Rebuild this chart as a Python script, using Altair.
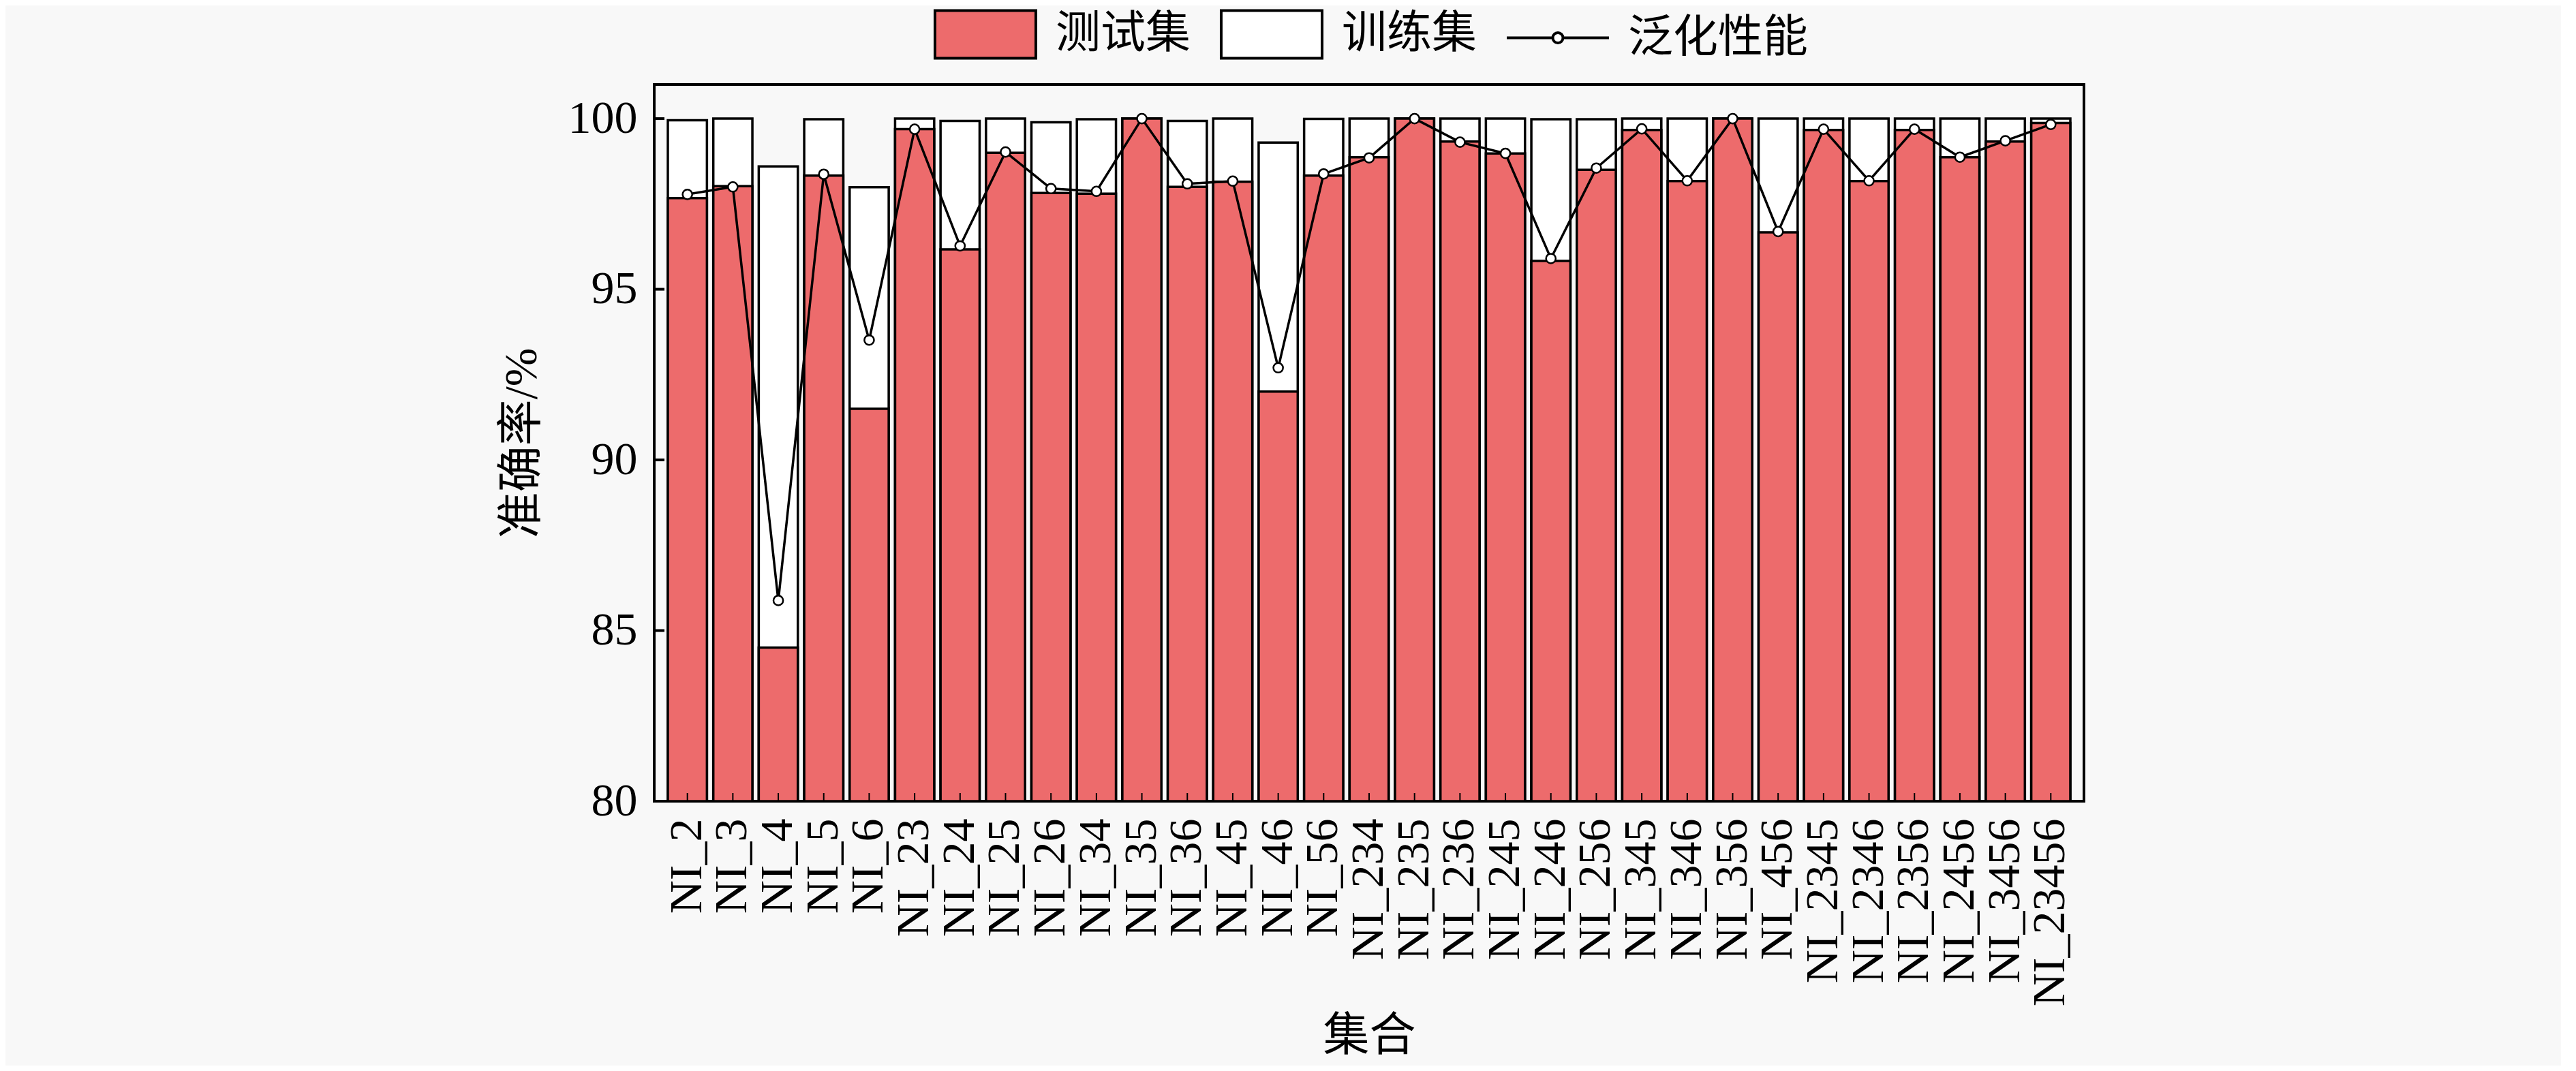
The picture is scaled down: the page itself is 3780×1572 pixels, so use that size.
import altair as alt
import pandas as pd

categories = ["NI_2", "NI_3", "NI_4", "NI_5", "NI_6", "NI_23", "NI_24", "NI_25", "NI_26",
              "NI_34", "NI_35", "NI_36", "NI_45", "NI_46", "NI_56", "NI_234", "NI_235",
              "NI_236", "NI_245", "NI_246", "NI_256", "NI_345", "NI_346", "NI_356",
              "NI_456", "NI_2345", "NI_2346", "NI_2356", "NI_2456", "NI_3456", "NI_23456"]
train_acc = [99.95, 100.0, 98.6, 99.98, 97.99, 100.0, 99.93, 100.0, 99.89, 99.98, 100.0,
             99.93, 100.0, 99.3, 99.99, 100.0, 100.0, 100.0, 100.0, 99.98, 99.98, 100.0,
             100.0, 100.0, 100.0, 100.0, 100.0, 100.0, 100.0, 100.0, 100.0]
test_acc = [97.67, 98.02, 84.5, 98.33, 91.5, 99.69, 96.17, 99.0, 97.82, 97.8, 100.0,
            98.0, 98.15, 92.0, 98.33, 98.87, 100.0, 99.33, 98.98, 95.83, 98.5, 99.67,
            98.17, 100.0, 96.67, 99.67, 98.17, 99.67, 98.87, 99.33, 99.87]
gen_perf = [97.78, 98.0, 85.88, 98.37, 93.51, 99.69, 96.27, 99.02, 97.95, 97.87, 100.0,
            98.09, 98.17, 92.7, 98.38, 98.85, 100.0, 99.31, 98.98, 95.9, 98.55, 99.7,
            98.18, 100.0, 96.69, 99.69, 98.18, 99.69, 98.87, 99.35, 99.83]
y_ticks = [80, 85, 90, 95, 100]
legend_labels = ["测试集", "训练集", "泛化性能"]

RED = "#ED6B6C"
SERIF = "Liberation Serif, Noto Sans CJK SC"
W, H = 2098, 1052

df = pd.DataFrame({"cat": categories, "train": train_acc, "test": test_acc, "gen": gen_perf})
tick_df = pd.DataFrame({"v": y_ticks})

yscale = alt.Scale(domain=[80, 101], zero=False, nice=False)
yaxis = alt.Axis(values=y_ticks, labelPadding=25, titleX=-194, titleY=H / 2,
                 titleAngle=270, titleAlign="center", titleBaseline="middle")
YT = "准确率/%"

xenc = alt.X("cat:N", sort=categories, title="集合",
             scale=alt.Scale(paddingInner=0.14, paddingOuter=0.3),
             axis=alt.Axis(labelAngle=-90, labelPadding=25, labelOverlap=False, labelLimit=0,
                           titleX=W / 2, titleY=345, titleAlign="center",
                           titleBaseline="middle"))

base = alt.Chart(df)

train_bars = base.mark_bar(fill="white", stroke="black", strokeWidth=3.5).encode(
    x=xenc, y=alt.Y("train:Q", scale=yscale, axis=yaxis, title=YT), y2=alt.datum(80))

test_bars = base.mark_bar(fill=RED, stroke="black", strokeWidth=3.5).encode(
    x=xenc, y=alt.Y("test:Q", scale=yscale, axis=yaxis, title=YT), y2=alt.datum(80))

x_ticks = base.mark_rule(color="black", strokeWidth=2).encode(
    x=xenc, y=alt.value(H), y2=alt.value(H - 12))

y_tick_marks = alt.Chart(tick_df).mark_rule(color="black", strokeWidth=4).encode(
    y=alt.Y("v:Q", scale=yscale, axis=yaxis, title=YT), x=alt.value(0), x2=alt.value(15))

gen_line = base.mark_line(color="black", strokeWidth=3.5).encode(
    x=xenc, y=alt.Y("gen:Q", scale=yscale, axis=yaxis, title=YT))

gen_pts = base.mark_point(shape="circle", filled=True, fill="white", stroke="black",
                          strokeWidth=2.5, size=200, opacity=1).encode(
    x=xenc, y=alt.Y("gen:Q", scale=yscale, axis=yaxis, title=YT))

rect_path = "M-0.987,-0.467H0.987V0.467H-0.987Z"
line_path = "M-1,0H-0.1M0.1,0H1M0.1,0A0.1,0.1 0 1,1 -0.1,0A0.1,0.1 0 1,1 0.1,0Z"

leg = alt.Legend(orient="none", legendX=409, legendY=-151, direction="horizontal",
                 title=None, symbolSize=22500, symbolStrokeWidth=4, symbolOpacity=1,
                 labelFont=SERIF, labelFontSize=66, labelColor="black", labelOffset=26,
                 columnPadding=36, labelLimit=0)

legend_layer = base.transform_calculate(s="'测试集'").transform_filter("false").mark_point(
    filled=True, strokeWidth=4, opacity=1).encode(
    fill=alt.Fill("s:N", scale=alt.Scale(domain=legend_labels, range=[RED, "white", "white"]),
                  legend=leg),
    stroke=alt.Stroke("s:N", scale=alt.Scale(domain=legend_labels,
                                             range=["black", "black", "black"]),
                      legend=leg),
    shape=alt.Shape("s:N", scale=alt.Scale(domain=legend_labels,
                                           range=[rect_path, rect_path, line_path]),
                    legend=leg))

chart = alt.layer(train_bars, test_bars, x_ticks, y_tick_marks, gen_line, gen_pts,
                  legend_layer).properties(
    width=W, height=H,
    autosize=alt.AutoSizeParams(type="none"),
    padding={"left": 952, "top": 116, "right": 700, "bottom": 388},
    background="#f8f8f8",
).configure_view(stroke="black", strokeWidth=4).configure_axis(
    grid=False, domain=False, ticks=False, tickSize=0,
    labelFont="Liberation Serif", labelFontSize=68, labelColor="black",
    titleFont=SERIF, titleFontSize=68, titleFontWeight="normal", titleColor="black")

chart.save("out.html", embed_options={"renderer": "svg", "actions": False})
